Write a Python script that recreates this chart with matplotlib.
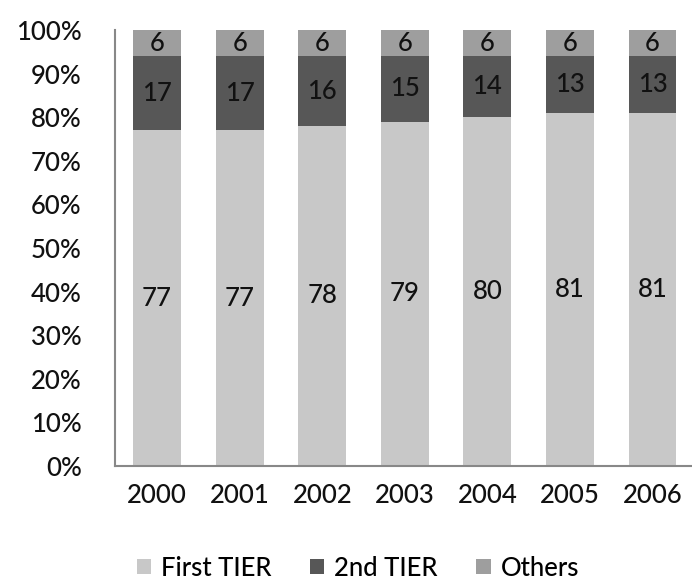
import numpy as np
import matplotlib.pyplot as plt

years = ['2000', '2001', '2002', '2003', '2004', '2005', '2006']
first_tier = [77, 77, 78, 79, 80, 81, 81]
second_tier = [17, 17, 16, 15, 14, 13, 13]
others = [6, 6, 6, 6, 6, 6, 6]

plt.rcParams['font.family'] = ['Lato', 'DejaVu Sans']

fig = plt.figure(figsize=(6.92, 5.8), dpi=100)
ax = fig.add_axes([115 / 692, 1 - 466 / 580, 578 / 692, 436 / 580])

x = np.arange(len(years))
width = 0.58
series = [
    ('First TIER', first_tier, '#c8c8c8'),
    ('2nd TIER', second_tier, '#575757'),
    ('Others', others, '#9e9e9e'),
]
fs = 18.5
bottom = np.zeros(len(years))
for name, vals, color in series:
    vals = np.array(vals)
    ax.bar(x, vals / 100, width, bottom=bottom / 100, color=color, label=name)
    for xi, b, v in zip(x, bottom, vals):
        ax.text(xi, (b + v / 2) / 100, str(v), ha='center', va='center',
                fontsize=fs, color='#111111', fontweight='medium')
    bottom += vals

ax.set_xlim(-0.51, 6.49)
ax.set_ylim(0, 1)
ax.set_yticks(np.arange(0, 1.01, 0.1))
ax.set_yticklabels([f'{int(round(v * 100))}%' for v in np.arange(0, 1.01, 0.1)])
ax.set_xticks(x)
ax.set_xticklabels(years)
ax.tick_params(axis='both', length=0, labelsize=fs, colors='#111111')
ax.tick_params(axis='x', pad=12)
ax.tick_params(axis='y', pad=24)
for lab in ax.get_xticklabels() + ax.get_yticklabels():
    lab.set_fontweight('medium')
for s in ['top', 'right']:
    ax.spines[s].set_visible(False)
for s in ['left', 'bottom']:
    ax.spines[s].set_color('#888888')
    ax.spines[s].set_linewidth(1.5)

leg = fig.legend(loc='center', bbox_to_anchor=(358 / 692, 1 - 568 / 580), ncol=3,
                 frameon=False, fontsize=fs, handlelength=0.55, handleheight=0.55,
                 handletextpad=0.4, columnspacing=1.5)
for t in leg.get_texts():
    t.set_fontweight('medium')

fig.savefig('out.png', dpi=100)
